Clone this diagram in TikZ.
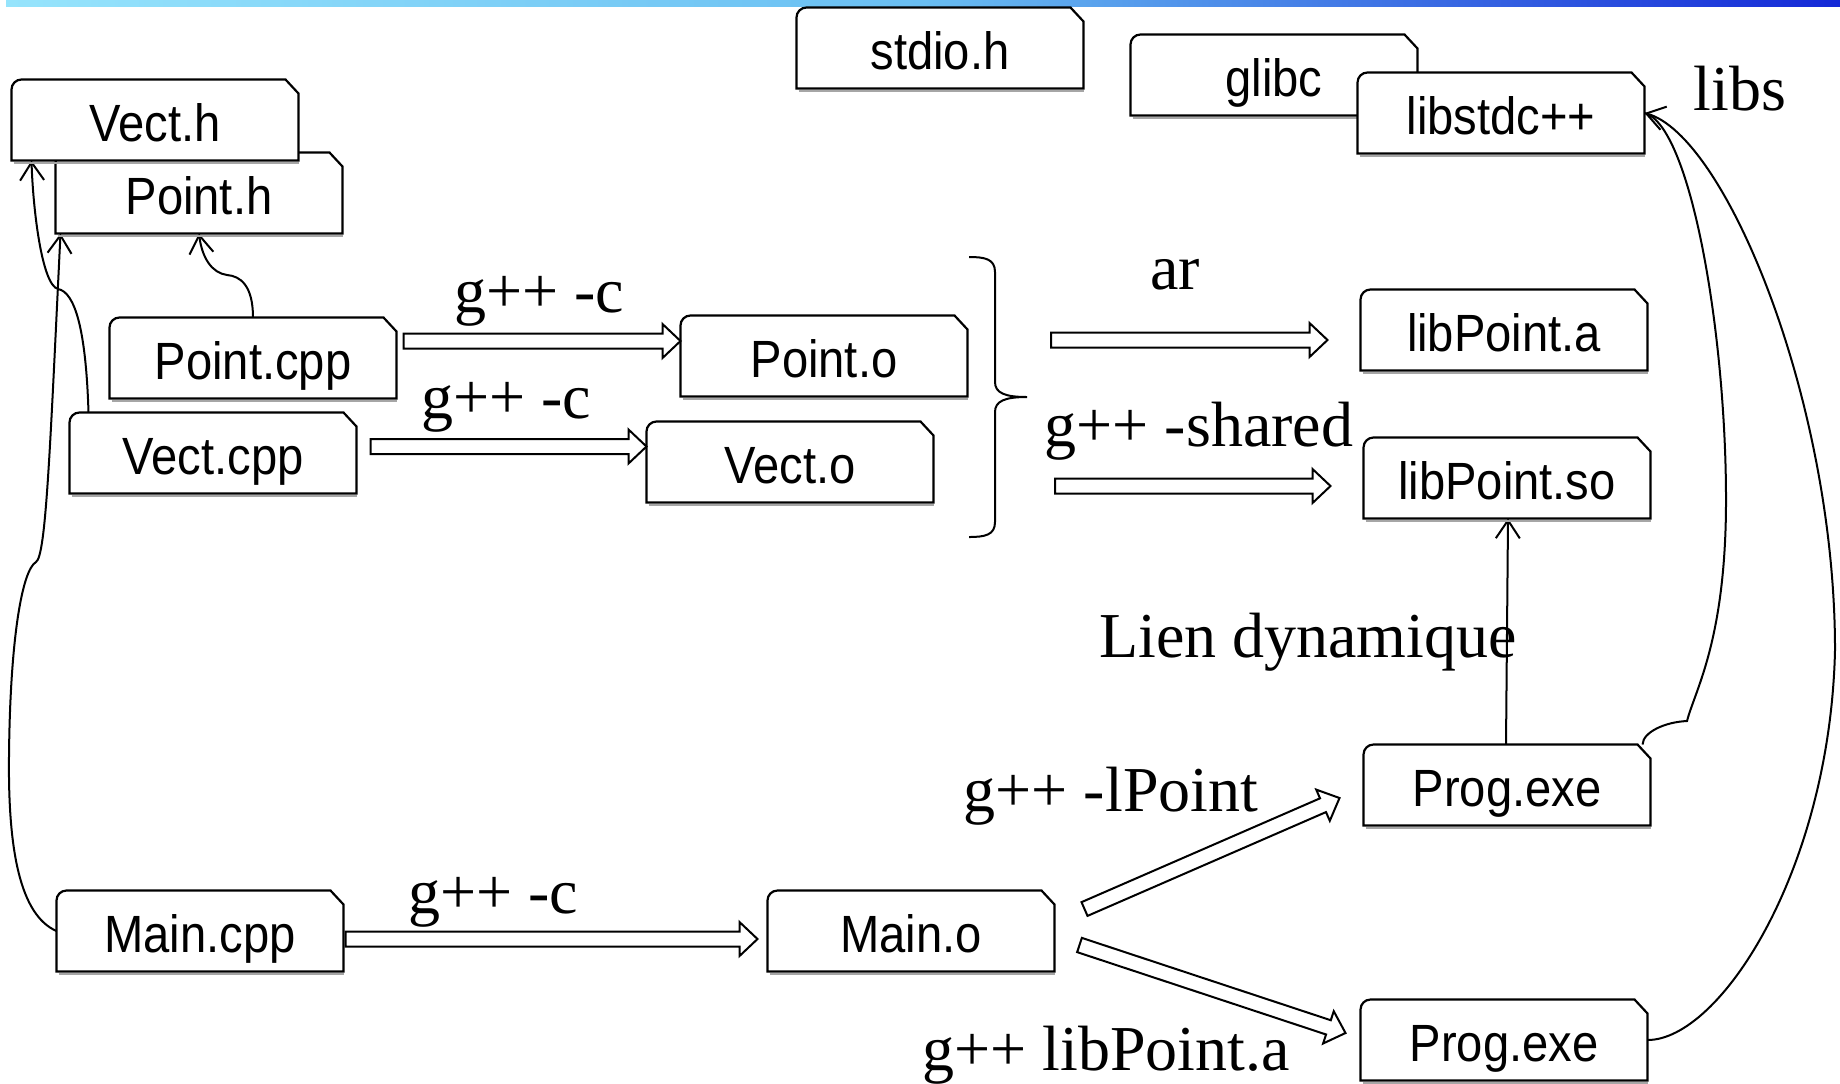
\documentclass[tikz,border=0pt]{standalone}
\usepackage{fontspec}
\newfontfamily\boxfont[FakeStretch=0.9]{Liberation Sans}
\newfontfamily\labfont{Liberation Serif}
\usetikzlibrary{calc,arrows.meta}
\definecolor{barL}{RGB}{150,228,252}
\definecolor{barM}{RGB}{105,190,242}
\definecolor{barR}{RGB}{20,40,215}
\tikzset{
 boxgeom/.style={minimum width=143.5pt, minimum height=40.5pt, inner sep=0pt, outer sep=0pt},
 boxline/.style={draw=black, fill=white, line width=1.1pt, line join=miter},
 boxshadow/.style={draw=black!35, line width=0.8pt},
 boxtext/.style={font=\boxfont\fontsize{26.2pt}{30pt}\selectfont, inner sep=0pt, text height=21.8pt, text depth=0pt},
 lab/.style={font=\labfont\fontsize{32pt}{36pt}\selectfont, inner sep=0pt, anchor=base},
 connline/.style={draw=black, line width=1pt},
 conn/.style={connline, -{Straight Barb[length=9pt,width=12pt,line width=1pt]}},
 hollow/.style={draw=black, fill=white, line width=1pt, line join=miter},
 bracestyle/.style={draw=black, line width=1pt},
}
\newcommand\filebox[3]{%
 \node[boxgeom] (#1) at #2 {};
 \draw[boxshadow] ([yshift=-1.3pt,xshift=1pt]#1.south west) -- ([yshift=-1.3pt]#1.south east);
 \path[boxline] (#1.south west) -- ([yshift=-5pt]#1.north west) arc[start angle=180,end angle=90,radius=5pt] -- ([xshift=-6.5pt]#1.north east) -- ([yshift=-7pt]#1.north east) -- (#1.south east) -- cycle;
 \node[boxtext] at (#1.center) {#3};
}
\newcommand\hollowarrow[2]{%
 \coordinate (hA) at #1; \coordinate (hB) at #2;
 \coordinate (hH) at ($(hB)!9pt!(hA)$);
 \path[hollow] ($(hA)!3.75pt!90:(hB)$) -- ($(hH)!3.75pt!90:(hB)$) -- ($(hH)!8.5pt!90:(hB)$) -- (hB) -- ($(hH)!8.5pt!-90:(hB)$) -- ($(hH)!3.75pt!-90:(hB)$) -- ($(hA)!3.75pt!-90:(hB)$) -- cycle;
}
\begin{document}
\begin{tikzpicture}[x=0.5pt,y=-0.5pt]
\useasboundingbox (0,0) rectangle (1840,1083);
\shade[left color=barL, right color=barR, middle color=barM] (6,0) rectangle (1840,6);

% geometry-only nodes first (for connectors)
\node[boxgeom] (pointh) at (199,193) {};
\node[boxgeom] (vecth) at (155,120) {};
\node[boxgeom] (pointcpp) at (253,358) {};
\node[boxgeom] (vectcpp) at (213,453) {};
\node[boxgeom] (maincpp) at (200,931) {};
\node[boxgeom] (libstd) at (1501,113) {};
\node[boxgeom] (libso) at (1507,478) {};
\node[boxgeom] (progtop) at (1507,785) {};
\node[boxgeom] (progbot) at (1504,1040) {};

% thin connectors
\draw[conn] (pointcpp.north) .. controls (253,285) and (240,276) .. (227,275) .. controls (212,273) and (202,258) .. (pointh.south);
\draw[conn] ($(vectcpp.north west)+(19,0)$) .. controls (86,330) and (75,292) .. (58,289) .. controls (42,285) and (33,210) .. ($(vecth.south west)+(20,0)$);
\draw[conn] (maincpp.west) .. controls (20,915) and (8,850) .. (9,757) .. controls (10,640) and (22,570) .. (36,562) .. controls (46,556) and (50,450) .. ($(pointh.south west)+(5,0)$);
\draw[conn] ($(progtop.north)+(-1,0)$) -- ($(libso.south)+(1,0)$);
\draw[connline] ($(progtop.north east)+(-8,0)$) .. controls (1643,732) and (1665,722) .. (1687,721) .. controls (1695,690) and (1726,640) .. (1726,500) .. controls (1726,330) and (1690,125) .. (libstd.east);
\draw[conn] (progbot.east) .. controls (1720,1040) and (1830,870) .. (1835,650) .. controls (1835,400) and (1725,135) .. (libstd.east);

% boxes
\filebox{pointh}{(199,193)}{Point.h}
\filebox{vecth}{(155,120)}{Vect.h}
\filebox{stdio}{(940,48)}{stdio.h}
\filebox{glibc}{(1274,75)}{glibc}
\filebox{libstd}{(1501,113)}{libstdc++}
\filebox{pointcpp}{(253,358)}{Point.cpp}
\filebox{vectcpp}{(213,453)}{Vect.cpp}
\filebox{pointo}{(824,356)}{Point.o}
\filebox{vecto}{(790,462)}{Vect.o}
\filebox{libpointa}{(1504,330)}{libPoint.a}
\filebox{libso}{(1507,478)}{libPoint.so}
\filebox{progtop}{(1507,785)}{Prog.exe}
\filebox{progbot}{(1504,1040)}{Prog.exe}
\filebox{maincpp}{(200,931)}{Main.cpp}
\filebox{maino}{(911,931)}{Main.o}

% brace
\coordinate (bracetip) at (1027,397);
\draw[bracestyle] (969,257) .. controls (985,257) and (995,259) .. (995,272) -- (995,382) .. controls (995,393) and (1005,397) .. (bracetip) .. controls (1005,397) and (995,401) .. (995,412) -- (995,522) .. controls (995,535) and (985,537) .. (969,537);

% hollow arrows
\hollowarrow{($(pointcpp.east)+(7,-17)$)}{($(pointo.west)+(0,-15)$)}
\hollowarrow{($(vectcpp.east)+(14,-6.5)$)}{($(vecto.west)+(0,-15.5)$)}
\hollowarrow{($(bracetip)+(24,-57)$)}{($(libpointa.west)+(-33,10)$)}
\hollowarrow{($(bracetip)+(28,89)$)}{($(libso.west)+(-33,8)$)}
\hollowarrow{($(maincpp.east)+(2,8)$)}{($(maino.west)+(-10,8)$)}
\hollowarrow{($(maino.east)+(30,-22)$)}{($(progtop.west)+(-24,13)$)}
\hollowarrow{($(maino.east)+(25,14)$)}{($(progbot.west)+(-15,-7)$)}

% labels
\node[lab] (l1) at (539,312) {g++ -c};
\node[lab] (l2) at (506,418) {g++ -c};
\node[lab] (l3) at (1175,289) {ar};
\node[lab] (l4) at (1199,446) {g++ -shared};
\node[lab] (l5) at (1308,657) {Lien dynamique};
\node[lab] (l6) at (1111,811) {g++ -lPoint};
\node[lab] (l7) at (493,913) {g++ -c};
\node[lab] (l8) at (1106,1070) {g++ libPoint.a};
\node[lab] (l9) at (1740,110) {libs};
\end{tikzpicture}
\end{document}
